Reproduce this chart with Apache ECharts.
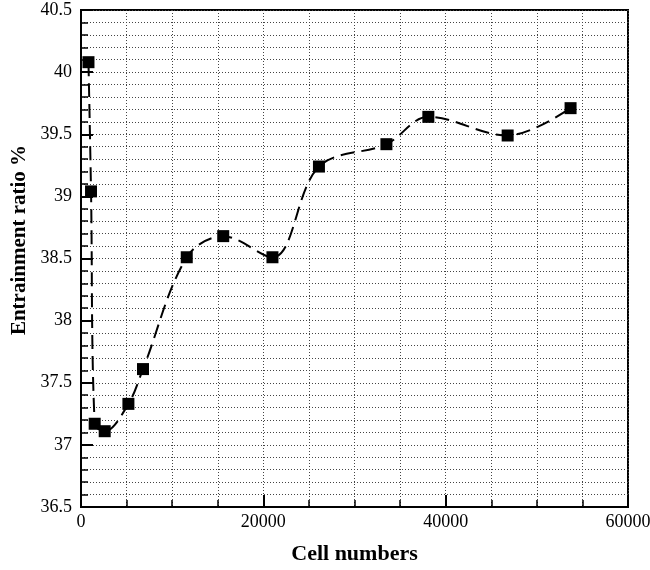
<!DOCTYPE html>
<html>
<head>
<meta charset="utf-8">
<script src="https://cdn.jsdelivr.net/npm/echarts@6/dist/echarts.min.js"></script>
<style>
html,body{margin:0;padding:0;background:#fff;}
#chart{width:650px;height:570px;}
</style>
</head>
<body>
<div id="chart"></div>
<script>
var cells = [820, 1100, 1500, 2600, 5200, 6800, 11600, 15600, 21000, 26100, 33500, 38100, 46800, 53700];
var ratio = [40.08, 39.04, 37.17, 37.11, 37.33, 37.61, 38.51, 38.68, 38.51, 39.24, 39.42, 39.64, 39.49, 39.71];
var xTitle = 'Cell numbers';
var yTitle = 'Entrainment ratio %';

var chart = echarts.init(document.getElementById('chart'), null, {renderer: 'canvas'});
var font = 'Liberation Serif';
var dotted = {show: true, lineStyle: {color: '#444', width: 1, type: [1, 2]}};
var option = {
  backgroundColor: '#fff',
  animation: false,
  grid: {left: 81, right: 22, top: 10, bottom: 63, show: true, borderColor: '#000', borderWidth: 2, outerBoundsMode: 'none', containLabel: false},
  xAxis: {
    type: 'value', min: 0, max: 60000, interval: 20000,
    name: xTitle, nameLocation: 'middle', nameGap: 36,
    nameTextStyle: {fontFamily: font, fontWeight: 'bold', fontSize: 22, color: '#000'},
    axisLine: {show: true, lineStyle: {color: '#000', width: 2}},
    axisTick: {show: true, inside: true, length: 12, lineStyle: {color: '#000', width: 2}},
    minorTick: {show: true, splitNumber: 4, length: 7, lineStyle: {color: '#000', width: 1.5}},
    axisLabel: {fontFamily: font, fontSize: 18, color: '#000', margin: 6, formatter: function (v) { return String(v); }},
    splitLine: dotted,
    minorSplitLine: dotted
  },
  yAxis: {
    type: 'value', min: 36.5, max: 40.5, interval: 0.5,
    axisLine: {show: true, lineStyle: {color: '#000', width: 2}},
    axisTick: {show: true, inside: true, length: 12, lineStyle: {color: '#000', width: 2}},
    minorTick: {show: true, splitNumber: 5, length: 7, lineStyle: {color: '#000', width: 1.5}},
    axisLabel: {fontFamily: font, fontSize: 18, color: '#000', margin: 9},
    splitLine: dotted,
    minorSplitLine: dotted
  },
  graphic: [{
    type: 'text', x: 20, y: 240, rotation: Math.PI / 2,
    style: {text: yTitle, fontFamily: font, fontWeight: 'bold', fontSize: 21, fill: '#000', align: 'center', verticalAlign: 'middle'}
  }],
  series: [{
    type: 'line',
    data: cells.map(function (c, i) { return [c, ratio[i]]; }),
    smooth: 0.35,
    symbol: 'rect', symbolSize: 12,
    itemStyle: {color: '#000'},
    lineStyle: {color: '#000', width: 2, type: [14, 7]}
  }]
};
chart.setOption(option);
</script>
</body>
</html>
